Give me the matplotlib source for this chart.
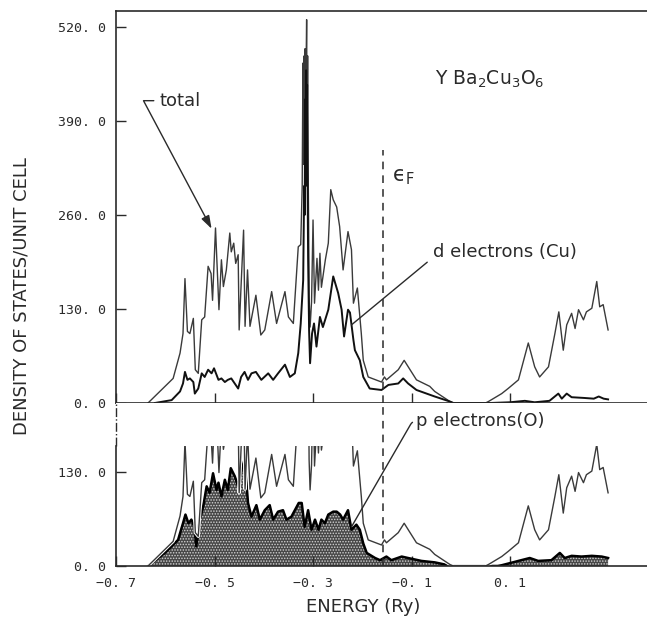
import numpy as np
import matplotlib.pyplot as plt
import matplotlib.patheffects as pe
from matplotlib.patches import Rectangle

# Energies (Ry) and DOS (states / unit cell)
total_e = [-0.635, -0.608, -0.584, -0.570, -0.564, -0.560, -0.555, -0.550, -0.543, -0.539,
           -0.533, -0.526, -0.520, -0.513, -0.507, -0.504, -0.498, -0.491, -0.486, -0.482,
           -0.476, -0.469, -0.466, -0.461, -0.457, -0.452, -0.450, -0.445, -0.441, -0.438,
           -0.433, -0.428, -0.416, -0.406, -0.398, -0.384, -0.374, -0.357, -0.350, -0.340,
           -0.330, -0.325, -0.322, -0.3205, -0.3195, -0.318, -0.317, -0.316, -0.315, -0.314,
           -0.313, -0.312, -0.311, -0.310, -0.309, -0.308, -0.306, -0.303, -0.300, -0.297,
           -0.292, -0.289, -0.286, -0.283, -0.275, -0.269, -0.264, -0.259, -0.252, -0.246,
           -0.239, -0.229, -0.222, -0.218, -0.210, -0.202, -0.198, -0.188, -0.161, -0.155,
           -0.151, -0.127, -0.115, -0.103, -0.090, -0.063, -0.053, -0.022, -0.015, 0.050,
           0.056, 0.083, 0.096, 0.117, 0.137, 0.150, 0.160, 0.178, 0.191, 0.199,
           0.208, 0.215, 0.225, 0.232, 0.239, 0.249, 0.255, 0.266, 0.276, 0.282,
           0.289, 0.299]
total_v = [0, 18, 34, 69, 96, 172, 99, 96, 117, 46,
           41, 115, 119, 189, 179, 142, 242, 129, 198, 161,
           184, 235, 209, 221, 193, 205, 101, 179, 239, 106,
           184, 106, 149, 94, 101, 154, 110, 154, 119, 110,
           216, 219, 300, 470, 330, 480, 340, 490, 350, 470,
           530, 360, 480, 330, 250, 147, 105, 140, 253, 138,
           200, 156, 207, 160, 198, 221, 295, 281, 271, 244,
           184, 237, 212, 138, 159, 96, 59, 36, 29, 36,
           32, 46, 59, 46, 32, 23, 16, 2, 0, 0,
           2, 13, 20, 32, 83, 50, 36, 50, 96, 126,
           73, 108, 124, 103, 129, 115, 126, 131, 168, 133,
           136, 101]

d_e = [-0.621, -0.587, -0.570, -0.564, -0.560, -0.555, -0.550, -0.543, -0.540, -0.533,
       -0.526, -0.520, -0.513, -0.506, -0.501, -0.492, -0.486, -0.479, -0.473, -0.466,
       -0.459, -0.452, -0.446, -0.439, -0.432, -0.425, -0.416, -0.405, -0.391, -0.381,
       -0.371, -0.357, -0.347, -0.337, -0.330, -0.325, -0.320, -0.318, -0.317, -0.316,
       -0.315, -0.314, -0.313, -0.312, -0.311, -0.310, -0.308, -0.306, -0.302, -0.298,
       -0.293, -0.286, -0.280, -0.269, -0.259, -0.249, -0.242, -0.237, -0.229, -0.225,
       -0.218, -0.215, -0.205, -0.198, -0.185, -0.161, -0.147, -0.127, -0.117, -0.107,
       -0.090, -0.053, -0.022, -0.015, 0.060, 0.100, 0.130, 0.150, 0.180, 0.198,
       0.205, 0.215, 0.225, 0.250, 0.270, 0.280, 0.290, 0.299]
d_v = [0, 4, 16, 27, 43, 32, 34, 29, 13, 20,
       41, 36, 46, 41, 48, 32, 34, 29, 32, 34,
       27, 20, 36, 43, 32, 41, 43, 32, 41, 32,
       41, 53, 36, 41, 69, 110, 170, 300, 260, 420,
       300, 460, 330, 440, 300, 200, 100, 55, 96, 110,
       78, 119, 105, 129, 175, 152, 129, 92, 129, 125,
       87, 73, 59, 36, 20, 18, 25, 27, 34, 27,
       18, 9, 2, 0, 0, 1, 3, 1, 3, 13,
       6, 13, 8, 7, 6, 9, 6, 5]

p_e = [-0.635, -0.601, -0.574, -0.564, -0.559, -0.553, -0.547, -0.541, -0.537, -0.530,
       -0.523, -0.516, -0.510, -0.503, -0.496, -0.492, -0.486, -0.479, -0.473, -0.467,
       -0.459, -0.452, -0.445, -0.439, -0.432, -0.425, -0.415, -0.408, -0.398, -0.388,
       -0.381, -0.371, -0.361, -0.354, -0.344, -0.329, -0.323, -0.317, -0.310, -0.303,
       -0.296, -0.289, -0.283, -0.276, -0.269, -0.259, -0.252, -0.245, -0.239, -0.229,
       -0.222, -0.212, -0.205, -0.198, -0.191, -0.174, -0.164, -0.151, -0.141, -0.120,
       -0.107, -0.080, -0.053, -0.025, -0.015, 0.075, 0.083, 0.117, 0.140, 0.157,
       0.184, 0.201, 0.211, 0.225, 0.245, 0.266, 0.286, 0.299]
p_v = [0, 18, 36, 59, 71, 59, 64, 54, 27, 64,
       82, 110, 101, 128, 105, 115, 96, 119, 105, 135,
       124, 110, 133, 147, 87, 68, 84, 64, 77, 84,
       64, 75, 77, 64, 68, 87, 87, 54, 77, 50,
       64, 50, 64, 59, 71, 75, 75, 71, 64, 77,
       50, 57, 50, 31, 18, 11, 8, 13, 8, 13,
       11, 7, 5, 1, 0, 0, 1, 7, 11, 7,
       8, 18, 11, 14, 13, 14, 13, 11]

E_FERMI = -0.157
CLIP = 165.0          # lower panel: total DOS is cut off above this
XMIN, XMAX = -0.7, 0.378
YMAX_TOP, YMAX_BOT = 542.0, 225.0

top_yticks = [0, 130, 260, 390, 520]
bot_yticks = [0, 130]
xticks = [-0.7, -0.5, -0.3, -0.1, 0.1]


def fmt(v):
    return f"{v:.1f}".replace(".", ". ").replace("-", "\u2212")


INK = "#2a2a2a"
plt.rcParams["font.family"] = "DejaVu Sans"
plt.rcParams["hatch.linewidth"] = 0.7

fig = plt.figure(figsize=(6.47, 6.29), dpi=100)
ax1 = fig.add_axes([0.1793, 0.3593, 0.8207, 0.6232])
ax2 = fig.add_axes([0.1793, 0.1002, 0.8207, 0.2591])

for ax in (ax1, ax2):
    ax.set_xlim(XMIN, XMAX)
    ax.spines["right"].set_visible(False)
    for s in ax.spines.values():
        s.set_color(INK)
        s.set_linewidth(1.2)
    ax.set_xticks(xticks)
    ax.tick_params(direction="in", length=7, width=1.0, color=INK,
                   labelcolor=INK, pad=7)

# ---- upper panel: total and Cu d ----
ax1.set_ylim(0, YMAX_TOP)
ax1.plot(total_e, total_v, color="#3a3a3a", lw=1.0)
ax1.plot(d_e, d_v, color="#111111", lw=1.4)
ax1.vlines(E_FERMI, 0, 350, colors=INK, linestyles=(0, (5, 4)), lw=1.1)
ax1.set_yticks(top_yticks)
ax1.set_yticklabels([fmt(v) for v in top_yticks], family="DejaVu Sans Mono", fontsize=9.5)
ax1.set_xticklabels([])

ax1.text(-0.053, 447, "Y Ba$_2$Cu$_3$O$_6$", fontsize=13.5, color=INK,
         ha="left", va="center")
ax1.text(-0.139, 313, "\u03f5$_\\mathregular{F}$", fontsize=15, color=INK,
         ha="left", va="center")
ax1.annotate("total", xy=(-0.506, 241), xytext=(-0.612, 418), fontsize=13, color=INK,
             ha="left", va="center",
             arrowprops=dict(arrowstyle="-|>,head_length=0.6,head_width=0.2",
                             color=INK, lw=1.0, shrinkA=2, shrinkB=0,
                             connectionstyle="angle,angleA=180,angleB=118,rad=0"))
ax1.annotate("d electrons (Cu)", xy=(-0.222, 108), xytext=(-0.056, 209), fontsize=13,
             color=INK, ha="left", va="center",
             arrowprops=dict(arrowstyle="-", color=INK, lw=1.0, shrinkA=3, shrinkB=0,
                             relpos=(0.0, 0.2)))

# ---- lower panel: O p (shaded) and clipped total ----
ax2.set_ylim(0, YMAX_BOT)
ax2.spines["top"].set_visible(False)
ax2.spines["left"].set_bounds(0, CLIP)
ax2.vlines(XMIN, CLIP, YMAX_BOT, colors=INK, linestyles="-.", lw=1.0, clip_on=False)

ax2.fill_between(p_e, 0, p_v, facecolor="#474747", hatch="......",
                 edgecolor="#d2d2d2", linewidth=0)
ax2.plot(p_e, p_v, color="black", lw=1.8)
tot_line, = ax2.plot(total_e, total_v, color="#3a3a3a", lw=1.0,
                     path_effects=[pe.Stroke(linewidth=2.4, foreground="white"), pe.Normal()])
tot_line.set_clip_path(Rectangle((XMIN, 0), XMAX - XMIN, CLIP, transform=ax2.transData))
ax2.axvline(E_FERMI, color=INK, linestyle=(0, (5, 4)), lw=1.1)

ax2.set_yticks(bot_yticks)
ax2.set_yticklabels([fmt(v) for v in bot_yticks], family="DejaVu Sans Mono", fontsize=9.5)
ax2.set_xticklabels([fmt(v) for v in xticks], family="DejaVu Sans Mono", fontsize=9.5)
ax2.tick_params(axis="x", pad=8)

ax2.annotate("p electrons(O)", xy=(-0.222, 54), xytext=(-0.090, 200), fontsize=13,
             color=INK, ha="left", va="center",
             arrowprops=dict(arrowstyle="-", color=INK, lw=1.0, shrinkA=1, shrinkB=0,
                             connectionstyle="angle,angleA=180,angleB=60,rad=4"))

fig.text(0.561, 0.035, "ENERGY (Ry)", fontsize=13, color=INK, ha="center", va="center")
fig.text(0.034, 0.529, "DENSITY OF STATES/UNIT CELL", fontsize=13, color=INK,
         rotation=90, ha="center", va="center")

fig.savefig("out.png", dpi=100)
